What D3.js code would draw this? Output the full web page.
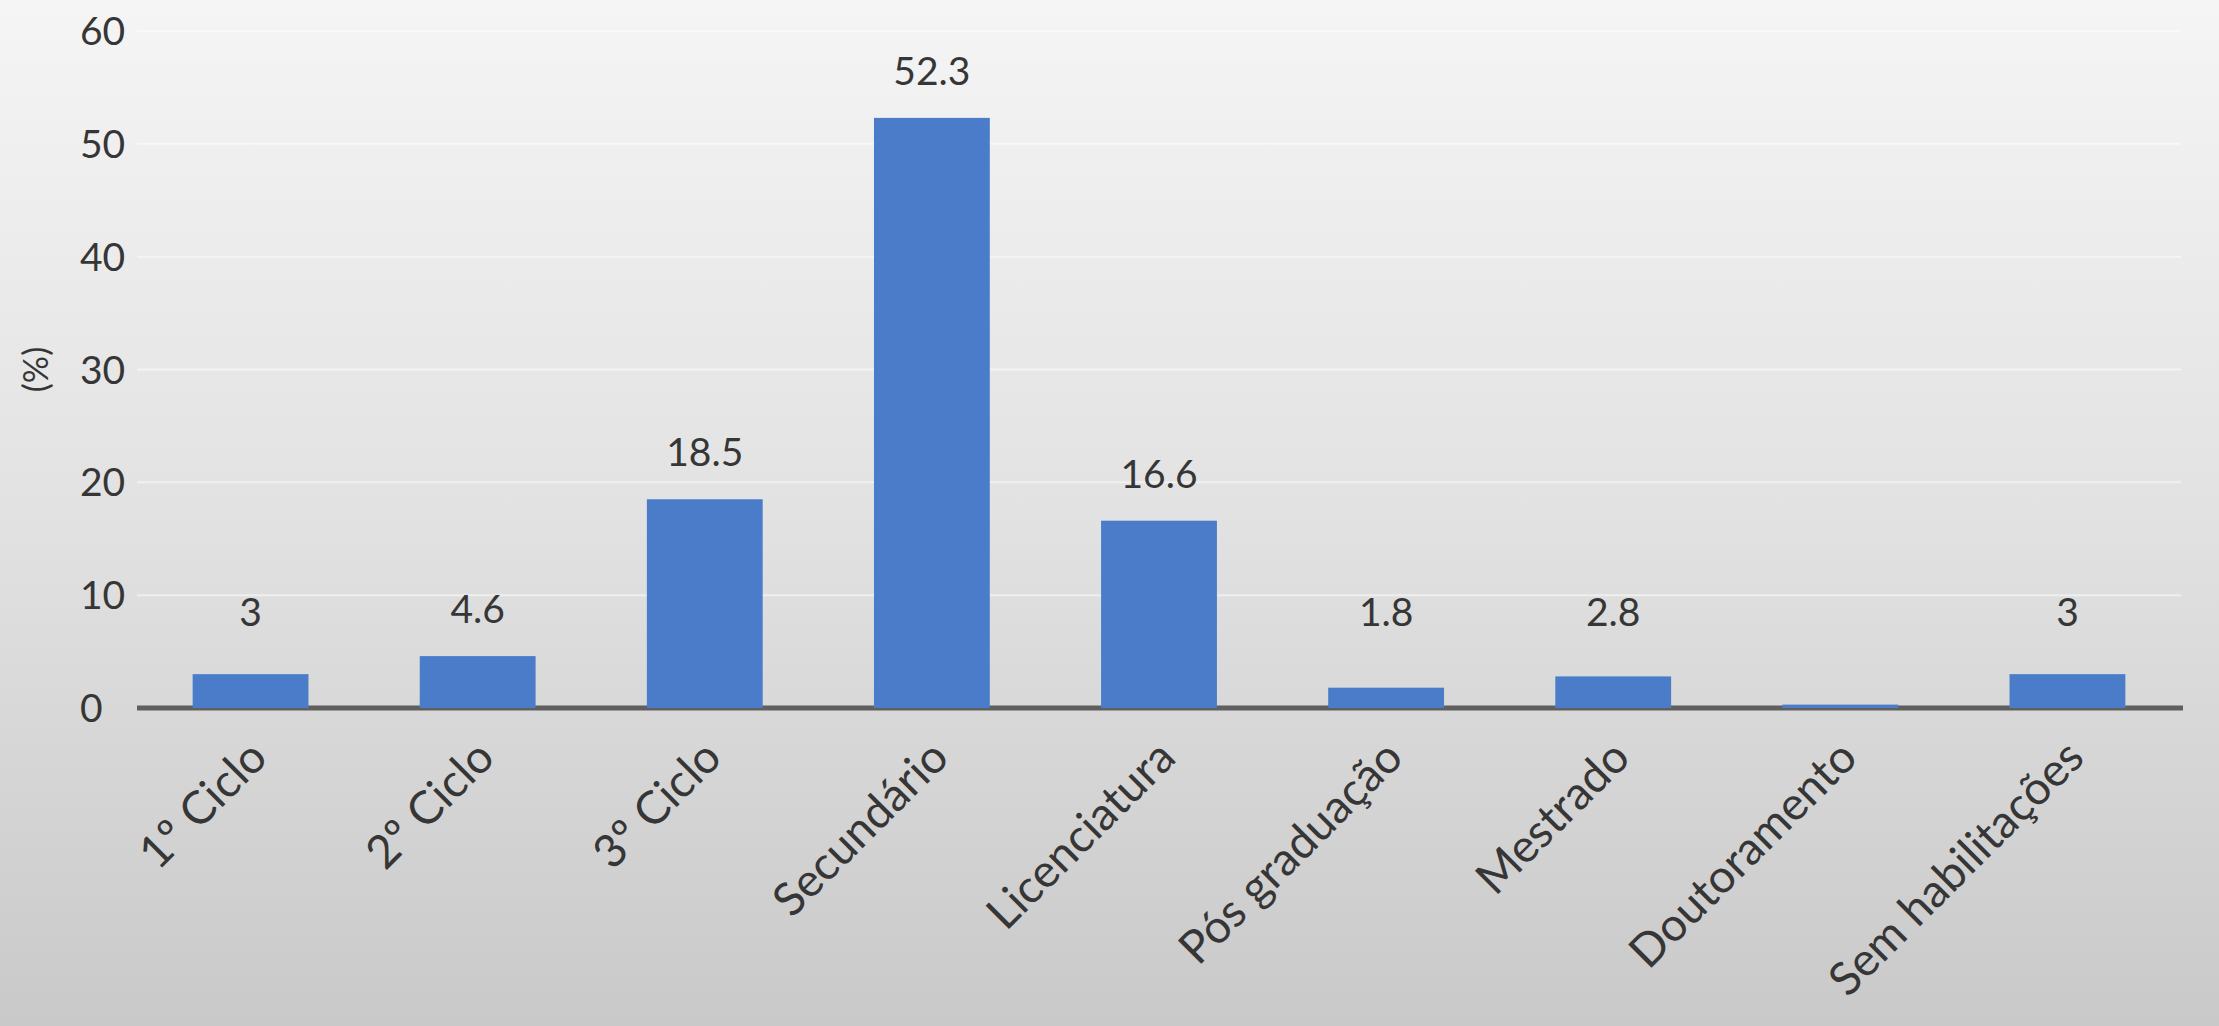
<!DOCTYPE html>
<html>
<head>
<meta charset="utf-8">
<script src="https://cdn.jsdelivr.net/npm/d3@7"></script>
<style>
    body { margin: 0; overflow: hidden; }
    svg { display: block; }
    text { font-family: Lato, "Liberation Sans", sans-serif; fill: #363636; }
</style>
</head>
<body>
<svg></svg>
<script>

const categories = [
    "1º Ciclo",
    "2º Ciclo",
    "3º Ciclo",
    "Secundário",
    "Licenciatura",
    "Pós graduação",
    "Mestrado",
    "Doutoramento",
    "Sem habilitações"
]

const values = [3, 4.6, 18.5, 52.3, 16.6, 1.8, 2.8, 0.3, 3]

// the chart shows no label on the Doutoramento bar
const valueLabels = ["3", "4.6", "18.5", "52.3", "16.6", "1.8", "2.8", "", "3"]

const yTicks = [0, 10, 20, 30, 40, 50, 60]

const width = 2219
const height = 1026

const svg = d3.select("svg")
    .attr("width", width)
    .attr("height", height)

// background gradient, light at the top and greyer at the bottom
const defs = svg.append("defs")

const bg = defs.append("linearGradient")
    .attr("id", "bg")
    .attr("x1", 0).attr("y1", 0)
    .attr("x2", 0).attr("y2", 1)

bg.append("stop").attr("offset", "0%").attr("stop-color", "#f5f5f5")
bg.append("stop").attr("offset", "50%").attr("stop-color", "#e2e2e2")
bg.append("stop").attr("offset", "100%").attr("stop-color", "#c9c9c9")

svg.append("rect")
    .attr("width", width)
    .attr("height", height)
    .attr("fill", "url(#bg)")

const x = d3.scaleBand()
    .domain(categories)
    .range([137, 2181])
    .paddingInner(0.49)
    .paddingOuter(0.245)

const y = d3.scaleLinear()
    .domain([0, 60])
    .range([708, 31])

// gridlines
svg.append("g")
    .selectAll("line")
    .data(yTicks.filter(d => d > 0))
    .join("line")
    .attr("x1", 137)
    .attr("x2", 2181)
    .attr("y1", d => y(d))
    .attr("y2", d => y(d))
    .attr("stroke", "#ffffff")
    .attr("stroke-opacity", 0.5)
    .attr("stroke-width", 2)

// y tick labels
svg.append("g")
    .selectAll("text")
    .data(yTicks)
    .join("text")
    .attr("x", 80)
    .attr("y", d => y(d))
    .attr("dy", "0.36em")
    .style("font-size", "39px")
    .text(d => d)

svg.append("text")
    .attr("transform", `translate(36, ${y(30)}) rotate(-90)`)
    .attr("text-anchor", "middle")
    .attr("dy", "0.36em")
    .style("font-size", "34px")
    .text("(%)")

// x axis line, drawn under the bars
svg.append("line")
    .attr("x1", 137)
    .attr("x2", 2183)
    .attr("y1", y(0))
    .attr("y2", y(0))
    .attr("stroke", "#5f5f5f")
    .attr("stroke-width", 5)

// bars
svg.append("g")
    .selectAll("rect")
    .data(values)
    .join("rect")
    .attr("x", (d, i) => x(categories[i]))
    .attr("width", x.bandwidth())
    .attr("y", d => y(d))
    .attr("height", d => y(0) - y(d))
    .attr("fill", "#4a7cca")

// value labels sit above the bar, but never lower than a minimum height
svg.append("g")
    .selectAll("text")
    .data(values)
    .join("text")
    .attr("x", (d, i) => x(categories[i]) + x.bandwidth() / 2)
    .attr("y", d => Math.min(y(d), y(4.3)) - 33)
    .attr("text-anchor", "middle")
    .style("font-size", "39px")
    .text((d, i) => valueLabels[i])

// rotated category labels
svg.append("g")
    .selectAll("text")
    .data(categories)
    .join("text")
    .attr("transform", d => `translate(${x(d) + x.bandwidth() / 2 + 19}, 760) rotate(-45)`)
    .attr("text-anchor", "end")
    .style("font-size", "46px")
    .text(d => d)

</script>
</body>
</html>
